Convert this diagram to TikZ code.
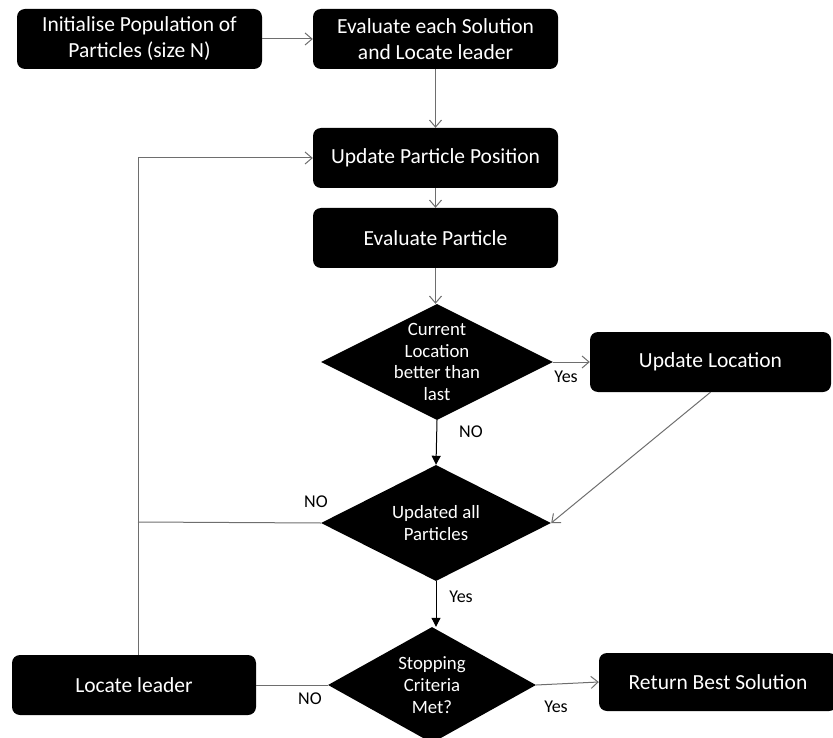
\documentclass[tikz,border=0pt]{standalone}
\usepackage{fontspec}
\setmainfont{Carlito}
\usetikzlibrary{arrows.meta,shapes.geometric}
\definecolor{conn}{HTML}{6E6E6E}
\begin{document}
\begin{tikzpicture}[x=1pt,y=-1pt,
  box/.style={rectangle, rounded corners=8pt, fill=black, text=white,
    minimum width=#1, minimum height=60pt, inner sep=0pt, align=center,
    font=\fontsize{21.5}{26}\selectfont},
  box/.default=245pt,
  decision/.style={diamond, fill=black, inner sep=0pt,
    minimum width=#1, minimum height=116pt},
  dtext/.style={text=white, align=center, font=\fontsize{18.8}{21.7}\selectfont},
  lbl/.style={font=\fontsize{18}{21}\selectfont, inner sep=0pt},
  flow/.style={draw=conn, line width=1pt, -{Straight Barb[length=7pt,width=12pt]}},
  plain/.style={draw=conn, line width=1pt},
  strong/.style={draw=black, line width=1pt, -{Triangle[length=9pt,width=9pt]}}
]
\useasboundingbox (0,0) rectangle (833,738);

% process boxes
\node[box] (init) at (139.5,39) {Initialise Population of\\Particles (size N)};
\node[box] (eval) at (435.5,39) {Evaluate each Solution\\and Locate leader};
\node[box] (upp)  at (435.5,158) {Update Particle Position};
\node[box] (evp)  at (435.5,238) {Evaluate Particle};
\node[box=241pt] (uloc) at (710.5,362) {Update Location};
\node[box=244pt] (locl) at (134,685) {Locate leader};
\node[box=238pt, minimum height=58pt] (ret) at (718,682) {Return Best Solution};

% decisions
\node[decision=232pt, label={[dtext]center:Current\\Location\\better than\\last}] (d1) at (437,362) {};
\node[decision=230pt, label={[dtext]center:Updated all\\Particles}] (d2) at (436,523) {};
\node[decision=208pt, label={[dtext]center:Stopping\\Criteria\\Met?}] (d3) at (432,685) {};

% loop-back corner
\coordinate (loop) at (138,522);

% connectors
\draw[flow] (init) -- (eval);
\draw[flow] (eval) -- (upp);
\draw[flow] (upp) -- (evp);
\draw[flow] (evp.south) -- (evp.south |- d1.north);
\draw[flow] (d1.east) -- (uloc.west);
\draw[strong] (d1.south) -- (d2.north);
\draw[flow] (uloc.south) -- (d2.east);
\draw[plain] (d2.west) -- (loop);
\draw[flow] (locl.north -| loop) |- (upp.west);
\draw[strong] (d2.south) -- (d2.south |- d3.north);
\draw[plain] (d3.west) -- (locl.east);
\draw[flow] (d3.east) -- (ret.west);

% branch labels
\node[lbl] (l1) at (566,377) {Yes};
\node[lbl] (l2) at (471,432) {NO};
\node[lbl] (l3) at (316,502) {NO};
\node[lbl] (l4) at (461,597) {Yes};
\node[lbl] (l5) at (310,699) {NO};
\node[lbl] (l6) at (556,707) {Yes};
\end{tikzpicture}
\end{document}
